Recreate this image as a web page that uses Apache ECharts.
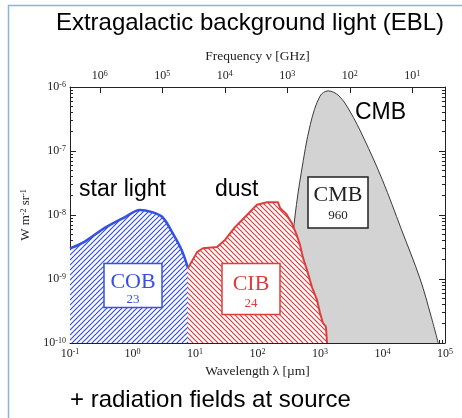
<!DOCTYPE html>
<html>
<head>
<meta charset="utf-8">
<script src="https://cdn.jsdelivr.net/npm/echarts@6/dist/echarts.min.js"></script>
<style>
  html, body { margin: 0; padding: 0; background: #fff; }
  #chart { width: 462px; height: 418px; }
</style>
</head>
<body>
<div id="chart"></div>
<script>
// Spectral energy distribution νIν (W m^-2 sr^-1) versus wavelength (µm)
const cobWavelength = [0.1, 0.17, 0.36, 0.76, 1.3, 2.0, 3.0, 4.3, 6.2, 7.73];
const cobIntensity  = [3.0e-9, 3.8e-9, 6.3e-9, 9.3e-9, 1.2e-8, 1.12e-8, 9.3e-9, 5.4e-9, 2.75e-9, 1.48e-9];

const cibWavelength = [7.73, 10.8, 13.4, 22.5, 30.2, 43.7, 67.9, 98.2, 142, 213, 229, 286, 356, 429, 479, 535, 619, 745, 895, 1000, 1117, 1247, 1294];
const cibIntensity  = [1.48e-9, 2.63e-9, 3.02e-9, 3.16e-9, 4.07e-9, 6.46e-9, 1.0e-8, 1.45e-8, 1.58e-8, 1.58e-8, 1.29e-8, 1.05e-8, 7.4e-9, 4.7e-9, 3.4e-9, 2.14e-9, 1.38e-9, 7.4e-10, 4.7e-10, 2.95e-10, 2.04e-10, 1.78e-10, 1.0e-10];

const cmbWavelength = [270, 300, 350, 400, 500, 700, 1000, 1350, 2000, 3000, 5000, 10000, 20000, 40000, 60000, 78000];
const cmbIntensity  = [1.0e-10, 4.0e-10, 2.6e-9, 1.0e-8, 4.5e-8, 2.6e-7, 7.2e-7, 8.7e-7, 7.3e-7, 4.2e-7, 1.6e-7, 3.5e-8, 6.0e-9, 1.0e-9, 2.6e-10, 1.0e-10];

// Tick exponents
const wavelengthExponents = [-1, 0, 1, 2, 3, 4, 5];
const intensityExponents  = [-10, -9, -8, -7, -6];
const frequencyExponents  = [6, 5, 4, 3, 2, 1];   // GHz

// Box annotations: name, integrated intensity (nW m^-2 sr^-1)
const bandNames  = ['COB', 'CIB', 'CMB'];
const bandTotals = ['23', '24', '960'];

const BLUE = '#3550e4';
const RED = '#df3c3c';
const SERIF = '"Liberation Serif", "DejaVu Serif", serif';
const SANS = '"Liberation Sans", Arial, sans-serif';

const lg = Math.log10;
const toPoints = (xs, ys) => xs.map((x, i) => [lg(x), lg(ys[i])]);

// ν [GHz] = 2.998e5 / λ [µm]
const C_UM_GHZ = lg(2.998e5);

function minorPositions(exps) {
  const out = [];
  for (let i = 0; i < exps.length - 1; i++) {
    for (let k = 2; k <= 9; k++) out.push(exps[i] + lg(k));
  }
  return out;
}

function hatch(color, rising) {
  const s = 5;
  const c = document.createElement('canvas');
  c.width = s; c.height = s;
  const g = c.getContext('2d');
  g.fillStyle = '#ffffff';
  g.fillRect(0, 0, s, s);
  g.strokeStyle = color;
  g.lineWidth = 1.2;
  g.beginPath();
  if (rising) {
    g.moveTo(-1, s + 1); g.lineTo(s + 1, -1);
    g.moveTo(-1, 1); g.lineTo(1, -1);
    g.moveTo(s - 1, s + 1); g.lineTo(s + 1, s - 1);
  } else {
    g.moveTo(-1, -1); g.lineTo(s + 1, s + 1);
    g.moveTo(-1, s - 1); g.lineTo(1, s + 1);
    g.moveTo(s - 1, -1); g.lineTo(s + 1, 1);
  }
  g.stroke();
  return c;
}

const powRich = {
  b: { fontFamily: SERIF, fontSize: 12, color: '#222' },
  s: { fontFamily: SERIF, fontSize: 8, color: '#222', verticalAlign: 'top' }
};
const powLabel = v => '{b|10}{s|' + Math.round(v) + '}';

const axisLineStyle = { show: true, onZero: false, lineStyle: { color: '#222', width: 1 } };
const hiddenLine = { show: false, onZero: false };
const majorTick = { show: true, inside: true, length: 6, lineStyle: { color: '#222', width: 1 } };
const minorTick = { show: true, inside: true, length: 3, lineStyle: { color: '#222', width: 1 } };

const chart = echarts.init(document.getElementById('chart'), null, { renderer: 'canvas' });

chart.setOption({
  animation: false,
  backgroundColor: '#ffffff',
  grid: { left: 70, right: 17, top: 87, bottom: 75, containLabel: false },
  xAxis: [
    {
      type: 'value', position: 'bottom', min: -1, max: 5, interval: 1,
      name: 'Wavelength λ [µm]', nameLocation: 'middle', nameGap: 20,
      nameTextStyle: { fontFamily: SERIF, fontSize: 13.5, color: '#222' },
      axisLine: axisLineStyle,
      axisTick: Object.assign({}, majorTick, { customValues: wavelengthExponents }),
      axisLabel: { customValues: wavelengthExponents, formatter: powLabel, rich: powRich, margin: 5 },
      splitLine: { show: false }
    },
    {
      type: 'value', position: 'bottom', min: -1, max: 5,
      axisLine: hiddenLine,
      axisTick: Object.assign({}, minorTick, { customValues: minorPositions(wavelengthExponents) }),
      axisLabel: { show: false },
      splitLine: { show: false }
    },
    {
      type: 'value', position: 'top', inverse: true,
      min: C_UM_GHZ - 5, max: C_UM_GHZ + 1,
      name: 'Frequency ν [GHz]', nameLocation: 'middle', nameGap: 24,
      nameTextStyle: { fontFamily: SERIF, fontSize: 13.5, color: '#222' },
      axisLine: axisLineStyle,
      axisTick: Object.assign({}, majorTick, { customValues: frequencyExponents }),
      axisLabel: { customValues: frequencyExponents, formatter: powLabel, rich: powRich, margin: 5 },
      splitLine: { show: false }
    }
  ],
  yAxis: [
    {
      type: 'value', position: 'left', min: -10, max: -6, interval: 1,
      name: '{t|W m}{s|-2}{t| sr}{s|-1}', nameLocation: 'middle', nameGap: 30, nameRotate: 90,
      nameTextStyle: {
        rich: {
          t: { fontFamily: SERIF, fontSize: 13, color: '#222' },
          s: { fontFamily: SERIF, fontSize: 8, color: '#222', verticalAlign: 'top' }
        }
      },
      axisLine: axisLineStyle,
      axisTick: Object.assign({}, majorTick, { customValues: intensityExponents }),
      axisLabel: { customValues: intensityExponents, formatter: powLabel, rich: powRich, margin: 4 },
      splitLine: { show: false }
    },
    {
      type: 'value', position: 'left', min: -10, max: -6,
      axisLine: hiddenLine,
      axisTick: Object.assign({}, minorTick, { customValues: minorPositions(intensityExponents) }),
      axisLabel: { show: false },
      splitLine: { show: false }
    },
    {
      type: 'value', position: 'right', min: -10, max: -6,
      axisLine: axisLineStyle,
      axisTick: Object.assign({}, majorTick, { customValues: intensityExponents }),
      axisLabel: { show: false },
      splitLine: { show: false }
    },
    {
      type: 'value', position: 'right', min: -10, max: -6,
      axisLine: hiddenLine,
      axisTick: Object.assign({}, minorTick, { customValues: minorPositions(intensityExponents) }),
      axisLabel: { show: false },
      splitLine: { show: false }
    }
  ],
  series: [
    {
      name: 'CMB', type: 'line', xAxisIndex: 0, yAxisIndex: 0, z: 1,
      data: toPoints(cmbWavelength, cmbIntensity),
      symbol: 'none', smooth: 0.35,
      lineStyle: { color: '#3a3a3a', width: 1 },
      areaStyle: { color: '#d3d3d3', opacity: 1, origin: 'start' }
    },
    {
      name: 'COB', type: 'line', xAxisIndex: 0, yAxisIndex: 0, z: 2,
      data: toPoints(cobWavelength, cobIntensity),
      symbol: 'none', smooth: 0.3,
      lineStyle: { color: BLUE, width: 2.5 },
      areaStyle: { color: { image: hatch(BLUE, true), repeat: 'repeat' }, opacity: 1, origin: 'start' }
    },
    {
      name: 'CIB', type: 'line', xAxisIndex: 0, yAxisIndex: 0, z: 3,
      data: toPoints(cibWavelength, cibIntensity),
      symbol: 'none', smooth: false,
      lineStyle: { color: RED, width: 2 },
      areaStyle: { color: { image: hatch(RED, false), repeat: 'repeat' }, opacity: 1, origin: 'start' }
    }
  ],
  graphic: [
    // slide frame
    { type: 'polyline', shape: { points: [[8.5, 418], [8.5, 5.5], [462, 5.5]] },
      style: { stroke: '#8fb1dc', lineWidth: 1.5, fill: null }, z: 10 },
    { type: 'text', x: 250, y: 23,
      style: { text: 'Extragalactic background light (EBL)', font: '24px ' + SANS, fill: '#000',
               textAlign: 'center', textVerticalAlign: 'middle' }, z: 10 },
    { type: 'text', x: 70, y: 400,
      style: { text: '+ radiation fields at source', font: '24px ' + SANS, fill: '#000',
               textAlign: 'left', textVerticalAlign: 'middle' }, z: 10 },
    { type: 'text', x: 79, y: 190,
      style: { text: 'star light', font: '23px ' + SANS, fill: '#000', textAlign: 'left', textVerticalAlign: 'middle' }, z: 10 },
    { type: 'text', x: 215, y: 190,
      style: { text: 'dust', font: '23px ' + SANS, fill: '#000', textAlign: 'left', textVerticalAlign: 'middle' }, z: 10 },
    { type: 'text', x: 355, y: 113,
      style: { text: 'CMB', font: '23px ' + SANS, fill: '#000', textAlign: 'left', textVerticalAlign: 'middle' }, z: 10 },

    // band boxes
    { type: 'rect', shape: { x: 104, y: 263.5, width: 58, height: 44 },
      style: { fill: '#fff', stroke: BLUE, lineWidth: 1.5 }, z: 10 },
    { type: 'text', x: 133, y: 282,
      style: { text: bandNames[0], font: '22px ' + SERIF, fill: BLUE, textAlign: 'center', textVerticalAlign: 'middle' }, z: 11 },
    { type: 'text', x: 133, y: 300,
      style: { text: bandTotals[0], font: '13px ' + SERIF, fill: BLUE, textAlign: 'center', textVerticalAlign: 'middle' }, z: 11 },

    { type: 'rect', shape: { x: 222, y: 263.5, width: 58, height: 51 },
      style: { fill: '#fff', stroke: RED, lineWidth: 1.5 }, z: 10 },
    { type: 'text', x: 251, y: 284,
      style: { text: bandNames[1], font: '22px ' + SERIF, fill: RED, textAlign: 'center', textVerticalAlign: 'middle' }, z: 11 },
    { type: 'text', x: 251, y: 304,
      style: { text: bandTotals[1], font: '13px ' + SERIF, fill: RED, textAlign: 'center', textVerticalAlign: 'middle' }, z: 11 },

    { type: 'rect', shape: { x: 308, y: 177, width: 60, height: 51 },
      style: { fill: '#fff', stroke: '#222', lineWidth: 1.5 }, z: 10 },
    { type: 'text', x: 338, y: 195,
      style: { text: bandNames[2], font: '22px ' + SERIF, fill: '#222', textAlign: 'center', textVerticalAlign: 'middle' }, z: 11 },
    { type: 'text', x: 338, y: 216,
      style: { text: bandTotals[2], font: '13px ' + SERIF, fill: '#222', textAlign: 'center', textVerticalAlign: 'middle' }, z: 11 }
  ]
});
</script>
</body>
</html>
